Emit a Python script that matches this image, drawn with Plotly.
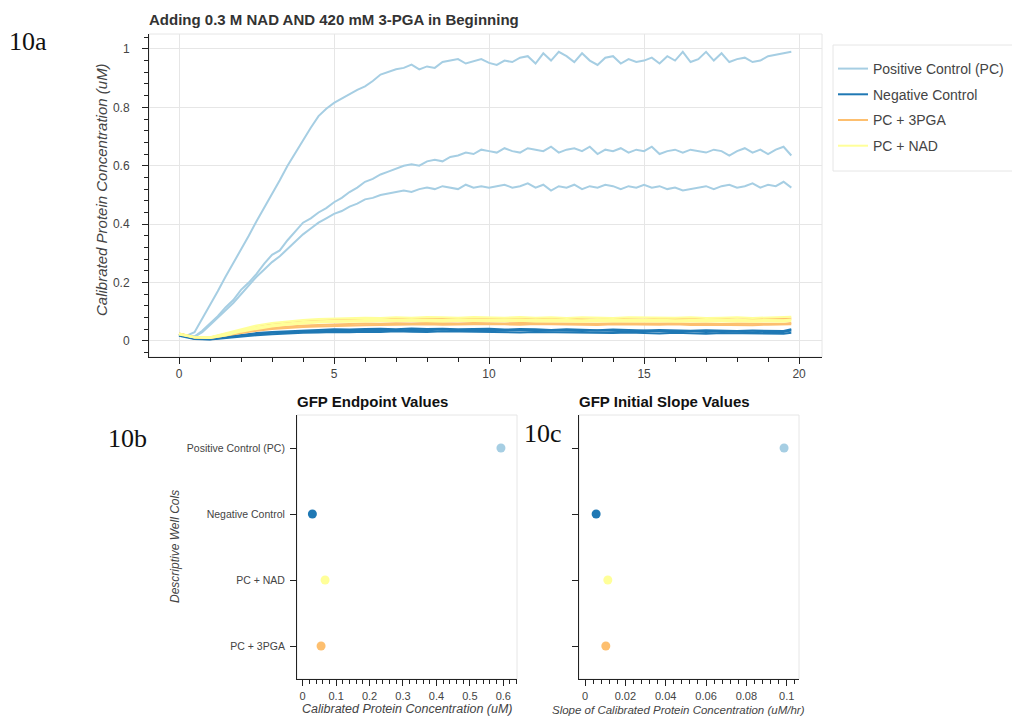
import plotly.graph_objects as go

W, H = 1012, 719

# ---------------- data ----------------
series_names = ["Positive Control (PC)", "Negative Control", "PC + 3PGA", "PC + NAD"]
series_colors = ["#a6cee3", "#1f78b4", "#fdbf6f", "#ffff99"]

# time (hr) for Positive Control traces
t_fine = [0.0, 0.25, 0.5, 0.75, 1.0, 1.25, 1.5, 1.75, 2.0, 2.25, 2.5, 2.75, 3.0, 3.25, 3.5, 3.75,
          4.0, 4.25, 4.5, 4.75, 5.0, 5.25, 5.5, 5.75, 6.0, 6.25, 6.5, 6.75, 7.0, 7.25, 7.5, 7.75,
          8.0, 8.25, 8.5, 8.75, 9.0, 9.25, 9.5, 9.75, 10.0, 10.25, 10.5, 10.75, 11.0, 11.25, 11.5, 11.75,
          12.0, 12.25, 12.5, 12.75, 13.0, 13.25, 13.5, 13.75, 14.0, 14.25, 14.5, 14.75, 15.0, 15.25, 15.5, 15.75,
          16.0, 16.25, 16.5, 16.75, 17.0, 17.25, 17.5, 17.75, 18.0, 18.25, 18.5, 18.75, 19.0, 19.25, 19.5, 19.75]

pc_rep1 = [0.025, 0.018, 0.03, 0.075, 0.12, 0.17, 0.22, 0.265, 0.315, 0.36, 0.41, 0.455, 0.5, 0.55, 0.6, 0.645,
           0.69, 0.73, 0.77, 0.795, 0.815, 0.83, 0.845, 0.86, 0.872, 0.89, 0.912, 0.92, 0.93, 0.935, 0.946, 0.93,
           0.94, 0.935, 0.955, 0.96, 0.965, 0.95, 0.958, 0.965, 0.952, 0.945, 0.96, 0.955, 0.97, 0.975, 0.95, 0.985,
           0.96, 0.99, 0.975, 0.955, 0.985, 0.96, 0.945, 0.97, 0.975, 0.95, 0.965, 0.955, 0.96, 0.97, 0.95, 0.975,
           0.96, 0.99, 0.955, 0.965, 0.99, 0.96, 0.985, 0.955, 0.965, 0.97, 0.955, 0.96, 0.975, 0.98, 0.985, 0.99]
pc_rep2 = [0.025, 0.018, 0.015, 0.035, 0.06, 0.085, 0.115, 0.14, 0.175, 0.2, 0.23, 0.265, 0.295, 0.31, 0.345, 0.375,
           0.405, 0.42, 0.44, 0.455, 0.475, 0.49, 0.51, 0.525, 0.545, 0.555, 0.57, 0.58, 0.59, 0.6, 0.605, 0.6,
           0.615, 0.62, 0.615, 0.63, 0.635, 0.645, 0.64, 0.655, 0.65, 0.645, 0.66, 0.65, 0.645, 0.66, 0.655, 0.65,
           0.665, 0.645, 0.655, 0.66, 0.65, 0.665, 0.64, 0.655, 0.65, 0.66, 0.645, 0.655, 0.65, 0.665, 0.64, 0.65,
           0.655, 0.645, 0.655, 0.65, 0.645, 0.655, 0.65, 0.635, 0.65, 0.66, 0.645, 0.655, 0.64, 0.655, 0.665, 0.635]
pc_rep3 = [0.025, 0.018, 0.015, 0.03, 0.055, 0.08, 0.105, 0.13, 0.16, 0.19, 0.22, 0.245, 0.27, 0.29, 0.315, 0.34,
           0.365, 0.385, 0.405, 0.42, 0.435, 0.445, 0.46, 0.47, 0.485, 0.49, 0.5, 0.505, 0.51, 0.515, 0.51, 0.52,
           0.525, 0.52, 0.53, 0.525, 0.52, 0.535, 0.525, 0.53, 0.525, 0.53, 0.535, 0.525, 0.53, 0.54, 0.525, 0.535,
           0.515, 0.53, 0.525, 0.535, 0.52, 0.53, 0.525, 0.535, 0.53, 0.52, 0.53, 0.525, 0.535, 0.525, 0.53, 0.52,
           0.525, 0.515, 0.52, 0.525, 0.53, 0.52, 0.53, 0.535, 0.525, 0.53, 0.54, 0.525, 0.535, 0.53, 0.545, 0.525]

# time (hr) for low-signal traces
t_coarse = [0.0, 0.5, 1.0, 1.5, 2.0, 2.5, 3.0, 3.5, 4.0, 4.5, 5.0, 5.5, 6.0, 6.5, 7.0, 7.5, 8.0, 8.5, 9.0, 9.5,
            10.0, 10.5, 11.0, 11.5, 12.0, 12.5, 13.0, 13.5, 14.0, 14.5, 15.0, 15.5, 16.0, 16.5, 17.0, 17.5,
            18.0, 18.5, 19.0, 19.5, 19.75]

neg_rep1 = [0.022, 0.008, 0.006, 0.012, 0.02, 0.024, 0.028, 0.03, 0.032, 0.033, 0.035, 0.034, 0.036, 0.037, 0.036,
            0.038, 0.037, 0.039, 0.036, 0.038, 0.037, 0.036, 0.038, 0.035, 0.037, 0.036, 0.034, 0.036, 0.035, 0.033,
            0.035, 0.034, 0.032, 0.034, 0.031, 0.033, 0.032, 0.03, 0.032, 0.031, 0.036]
neg_rep2 = [0.02, 0.01, 0.008, 0.014, 0.022, 0.027, 0.031, 0.034, 0.036, 0.038, 0.04, 0.039, 0.041, 0.042, 0.04,
            0.043, 0.041, 0.042, 0.04, 0.041, 0.042, 0.039, 0.041, 0.04, 0.038, 0.04, 0.039, 0.037, 0.039, 0.038,
            0.036, 0.038, 0.037, 0.035, 0.037, 0.036, 0.034, 0.036, 0.035, 0.034, 0.04]
neg_rep3 = [0.018, 0.007, 0.005, 0.01, 0.016, 0.02, 0.023, 0.026, 0.028, 0.029, 0.031, 0.03, 0.032, 0.031, 0.033,
            0.032, 0.031, 0.033, 0.032, 0.03, 0.031, 0.03, 0.029, 0.031, 0.03, 0.028, 0.029, 0.028, 0.027, 0.029,
            0.027, 0.026, 0.028, 0.027, 0.025, 0.027, 0.026, 0.025, 0.026, 0.025, 0.028]

pga_rep1 = [0.024, 0.012, 0.01, 0.018, 0.028, 0.035, 0.041, 0.045, 0.048, 0.05, 0.052, 0.053, 0.054, 0.055, 0.056,
            0.055, 0.057, 0.056, 0.057, 0.056, 0.058, 0.057, 0.056, 0.058, 0.057, 0.056, 0.057, 0.055, 0.057, 0.056,
            0.055, 0.056, 0.057, 0.055, 0.056, 0.055, 0.056, 0.054, 0.056, 0.055, 0.057]
pga_rep2 = [0.026, 0.013, 0.011, 0.02, 0.031, 0.039, 0.045, 0.05, 0.053, 0.055, 0.057, 0.058, 0.06, 0.059, 0.061,
            0.06, 0.062, 0.061, 0.06, 0.062, 0.061, 0.06, 0.062, 0.061, 0.06, 0.061, 0.06, 0.059, 0.061, 0.06,
            0.059, 0.06, 0.061, 0.059, 0.06, 0.058, 0.06, 0.059, 0.06, 0.059, 0.062]
pga_rep3 = [0.025, 0.013, 0.012, 0.024, 0.038, 0.049, 0.057, 0.063, 0.067, 0.07, 0.072, 0.073, 0.075, 0.074, 0.076,
            0.075, 0.077, 0.076, 0.075, 0.077, 0.076, 0.075, 0.076, 0.077, 0.075, 0.076, 0.075, 0.074, 0.076, 0.075,
            0.074, 0.076, 0.075, 0.074, 0.075, 0.076, 0.074, 0.075, 0.076, 0.075, 0.077]

nad_rep1 = [0.026, 0.014, 0.013, 0.026, 0.041, 0.053, 0.062, 0.068, 0.072, 0.075, 0.077, 0.078, 0.08, 0.079, 0.081,
            0.08, 0.082, 0.081, 0.08, 0.082, 0.081, 0.08, 0.082, 0.08, 0.081, 0.079, 0.081, 0.08, 0.079, 0.081,
            0.08, 0.079, 0.08, 0.081, 0.079, 0.08, 0.081, 0.079, 0.08, 0.081, 0.083]
nad_rep2 = [0.024, 0.013, 0.012, 0.022, 0.036, 0.047, 0.055, 0.061, 0.065, 0.068, 0.07, 0.071, 0.072, 0.073, 0.072,
            0.074, 0.073, 0.072, 0.074, 0.073, 0.072, 0.073, 0.074, 0.072, 0.073, 0.072, 0.071, 0.073, 0.072, 0.071,
            0.072, 0.073, 0.071, 0.072, 0.071, 0.072, 0.073, 0.071, 0.072, 0.071, 0.074]
nad_rep3 = [0.022, 0.012, 0.01, 0.019, 0.032, 0.042, 0.05, 0.056, 0.06, 0.063, 0.065, 0.066, 0.067, 0.068, 0.067,
            0.069, 0.068, 0.067, 0.069, 0.068, 0.067, 0.068, 0.069, 0.067, 0.068, 0.067, 0.066, 0.068, 0.067, 0.066,
            0.067, 0.068, 0.066, 0.067, 0.066, 0.067, 0.068, 0.066, 0.067, 0.066, 0.069]

# dot plots (bottom to top category order)
well_cols = ["PC + 3PGA", "PC + NAD", "Negative Control", "Positive Control (PC)"]
well_colors = ["#fdbf6f", "#ffff99", "#1f78b4", "#a6cee3"]
endpoint_values = [0.055, 0.067, 0.029, 0.593]
slope_values = [0.0103, 0.0113, 0.0055, 0.0987]

# ---------------- figure ----------------
fig = go.Figure()

groups = [
    (series_names[0], series_colors[0], t_fine, [pc_rep1, pc_rep2, pc_rep3]),
    (series_names[1], series_colors[1], t_coarse, [neg_rep1, neg_rep2, neg_rep3]),
    (series_names[2], series_colors[2], t_coarse, [pga_rep1, pga_rep2, pga_rep3]),
    (series_names[3], series_colors[3], t_coarse, [nad_rep1, nad_rep2, nad_rep3]),
]
for name, color, tt, reps in groups:
    for i, ys in enumerate(reps):
        fig.add_trace(go.Scatter(
            x=tt, y=ys, mode="lines", name=name, legendgroup=name,
            showlegend=(i == 0), line=dict(color=color, width=2),
            xaxis="x", yaxis="y"))

fig.add_trace(go.Scatter(
    x=endpoint_values, y=well_cols, mode="markers", showlegend=False,
    marker=dict(color=well_colors, size=9, line=dict(width=0)),
    xaxis="x2", yaxis="y2"))
fig.add_trace(go.Scatter(
    x=slope_values, y=well_cols, mode="markers", showlegend=False,
    marker=dict(color=well_colors, size=9, line=dict(width=0)),
    xaxis="x3", yaxis="y3"))

FONT = "Liberation Sans, Arial, sans-serif"
TXT = "#444444"
AX = "#222222"
GRID = "#e6e6e6"

def px_x(a, b):
    return [a / W, b / W]

def px_y(top, bottom):
    return [1 - bottom / H, 1 - top / H]

common = dict(showline=True, linecolor=AX, linewidth=1, ticks="outside", ticklen=6,
              tickcolor=AX, zeroline=False, tickfont=dict(family=FONT, size=12, color=TXT))

fig.update_layout(
    width=W, height=H,
    margin=dict(l=0, r=0, t=0, b=0, autoexpand=False),
    paper_bgcolor="white", plot_bgcolor="white",
    font=dict(family=FONT, color=TXT),
    xaxis=dict(domain=px_x(149, 822), range=[-0.968, 20.74], dtick=5, tick0=0,
               showgrid=True, gridcolor=GRID, anchor="y", ticklabelstandoff=0,
               minor=dict(ticks="outside", ticklen=4, dtick=1, tickcolor=AX, showgrid=False),
               **common),
    yaxis=dict(domain=px_y(34, 357), range=[-0.0548, 1.051], dtick=0.2, tick0=0,
               showgrid=True, gridcolor=GRID, anchor="x", ticklabelstandoff=10,
               minor=dict(ticks="outside", ticklen=4, dtick=0.04, tickcolor=AX, showgrid=False),
               **common),
    xaxis2=dict(domain=px_x(297, 517), range=[-0.017, 0.641], dtick=0.1, tick0=0,
                showgrid=False, anchor="y2", ticklabelstandoff=1,
                minor=dict(ticks="outside", ticklen=4, dtick=0.02, tickcolor=AX, showgrid=False),
                **{**common, "tickfont": dict(family=FONT, size=11, color=TXT)}),
    yaxis2=dict(domain=px_y(415, 679), range=[-0.5, 3.5], type="category",
                categoryorder="array", categoryarray=well_cols,
                showgrid=False, anchor="x2", ticklabelstandoff=3,
                **{**common, "tickfont": dict(family=FONT, size=10.5, color=TXT)}),
    xaxis3=dict(domain=px_x(579, 799), range=[-0.003, 0.1061], dtick=0.02, tick0=0,
                showgrid=False, anchor="y3", ticklabelstandoff=1,
                minor=dict(ticks="outside", ticklen=4, dtick=0.004, tickcolor=AX, showgrid=False),
                **{**common, "tickfont": dict(family=FONT, size=11, color=TXT)}),
    yaxis3=dict(domain=px_y(415, 679), range=[-0.5, 3.5], type="category",
                categoryorder="array", categoryarray=well_cols,
                showgrid=False, showticklabels=False, anchor="x3",
                **common),
    legend=dict(x=833 / W, y=1 - 53 / H, xanchor="left", yanchor="top",
                borderwidth=0, bgcolor="rgba(0,0,0,0)",
                font=dict(family=FONT, size=14, color=TXT),
                tracegroupgap=4.5, traceorder="grouped"),
    showlegend=True,
)

# light frames around plot areas
for xr, yr in [("x", "y"), ("x2", "y2"), ("x3", "y3")]:
    fig.add_shape(type="rect", xref=f"{xr} domain", yref=f"{yr} domain",
                  x0=0, x1=1, y0=0, y1=1, line=dict(color=GRID, width=1), layer="below")

# legend box
fig.add_shape(type="rect", xref="paper", yref="paper",
              x0=833 / W, x1=1.02, y0=1 - 171 / H, y1=1 - 45 / H,
              line=dict(color=GRID, width=1), fillcolor="white", layer="below")

def ann(text, x, y, size, xanchor="center", yanchor="middle", angle=0, family=FONT, color=TXT):
    fig.add_annotation(text=text, x=x / W, y=1 - y / H, xref="paper", yref="paper",
                       xanchor=xanchor, yanchor=yanchor, showarrow=False, textangle=angle,
                       font=dict(family=family, size=size, color=color))

# titles
ann("<b>Adding 0.3 M NAD AND 420 mM 3-PGA in Beginning</b>", 147, 19, 15, xanchor="left", color="#333333")
ann("<b>GFP Endpoint Values</b>", 295, 402, 15, xanchor="left", color="#111111")
ann("<b>GFP Initial Slope Values</b>", 577, 402, 15, xanchor="left", color="#111111")

# axis titles
ann("<i>Calibrated Protein Concentration (uM)</i>", 101, 190, 15, angle=-90)
ann("<i>Calibrated Protein Concentration (uM)</i>", 407, 718, 12.5, yanchor="bottom")
ann("<i>Slope of Calibrated Protein Concentration (uM/hr)</i>", 678, 718, 11.5, yanchor="bottom")
ann("<i>Descriptive Well Cols</i>", 175, 547, 12, angle=-90)

# panel labels
SERIF = "Liberation Serif, DejaVu Serif, serif"
ann("10a", 7, 42, 26, xanchor="left", family=SERIF, color="#111111")
ann("10b", 106, 438, 26, xanchor="left", family=SERIF, color="#111111")
ann("10c", 522, 433, 26, xanchor="left", family=SERIF, color="#111111")

fig.write_html("out.html", config={"displayModeBar": False},
               post_script="document.body.style.margin='0';")
